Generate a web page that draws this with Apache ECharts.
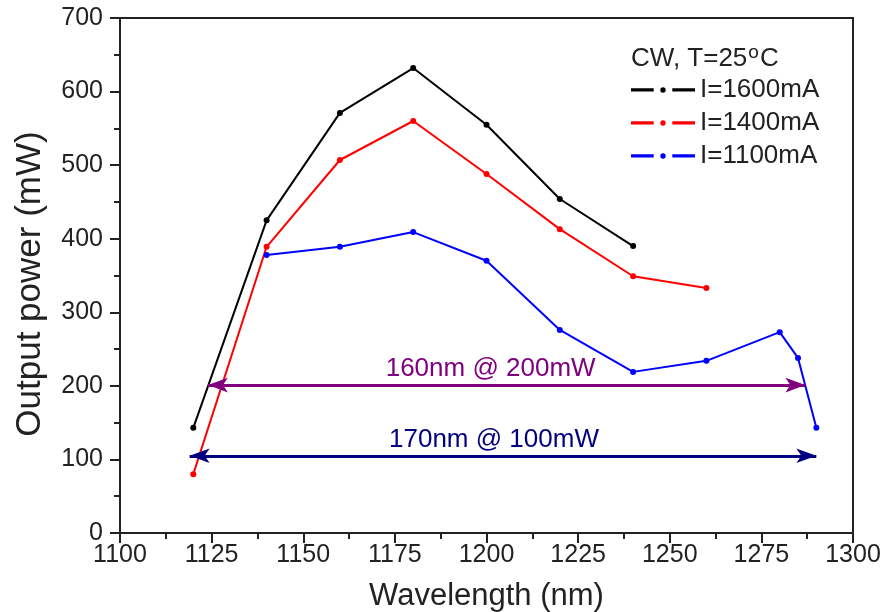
<!DOCTYPE html>
<html>
<head>
<meta charset="utf-8">
<script src="https://cdn.jsdelivr.net/npm/echarts@6/dist/echarts.min.js"></script>
<style>
  html, body { margin: 0; padding: 0; background: #fff; }
  #main { width: 888px; height: 612px; }
</style>
</head>
<body>
<div id="main"></div>
<script>
var wl1600 = [1120, 1140, 1160, 1180, 1200, 1220, 1240];
var p1600 = [143, 425, 571, 632, 555, 454, 390];
var wl1400 = [1120, 1140, 1160, 1180, 1200, 1220, 1240, 1260];
var p1400 = [80, 389, 507, 560, 488, 413, 349, 333];
var wl1100 = [1140, 1160, 1180, 1200, 1220, 1240, 1260, 1280, 1285, 1290];
var p1100 = [378, 389, 409, 370, 276, 219, 234, 273, 238, 143];
var seriesNames = ['I=1600mA', 'I=1400mA', 'I=1100mA'];
// arrows: [start wl, end wl, power, label]
var arrow200 = [1124, 1287, 201, '160nm @ 200mW'];
var arrow100 = [1119, 1290, 105, '170nm @ 100mW'];

var chartDom = document.getElementById('main');
var myChart = echarts.init(chartDom);
var font = 'Liberation Sans, Arial, sans-serif';

function pairs(xs, ys) {
    return xs.map(function (x, i) { return [x, ys[i]]; });
}

function arrowLine(a, color, shiftX) {
    return {
        silent: true,
        symbol: ['arrow', 'arrow'],
        symbolSize: [11, 20],
        lineStyle: { color: color, width: 3, type: 'solid' },
        label: {
            show: true,
            position: 'insideMiddleTop',
            distance: 3,
            offset: [shiftX, 0],
            formatter: a[3],
            color: color,
            fontSize: 26,
            fontFamily: font
        },
        data: [[{ coord: [a[0], a[2]] }, { coord: [a[1], a[2]] }]]
    };
}

var legendIcon = 'path://M0,5H22V8H0Z M40,5H62V8H40Z M31,4A2.6,2.6 0 1 1 31,9.2A2.6,2.6 0 1 1 31,4Z';

var option = {
    backgroundColor: '#fff',
    animation: false,
    title: {
        left: 626,
        top: 38,
        text: '{a|CW, T=25}{s|o}{a|C}',
        textStyle: {
            fontWeight: 'normal',
            rich: {
                a: { fontSize: 26, fontFamily: font, color: '#222' },
                s: { fontSize: 19, fontFamily: font, color: '#222', verticalAlign: 'top', padding: [0, 1, 12, 1] }
            }
        }
    },
    legend: {
        orient: 'vertical',
        left: 626,
        top: 72,
        itemGap: 7,
        itemWidth: 64,
        itemHeight: 6,
        icon: legendIcon,
        textStyle: { fontSize: 26, fontFamily: font, color: '#222', padding: [0, 0, 0, 0] },
        data: seriesNames
    },
    grid: {
        left: 120,
        right: 35,
        top: 18,
        bottom: 79,
        outerBoundsMode: 'none',
        show: true,
        borderColor: '#222',
        borderWidth: 2
    },
    xAxis: {
        type: 'value',
        min: 1100,
        max: 1300,
        interval: 25,
        name: 'Wavelength (nm)',
        nameLocation: 'middle',
        nameGap: 48,
        nameTextStyle: { fontSize: 31, fontFamily: font, color: '#222' },
        axisLine: { lineStyle: { color: '#222', width: 2 } },
        axisTick: { length: 10, lineStyle: { color: '#222', width: 2 } },
        minorTick: { show: true, splitNumber: 2, length: 6, lineStyle: { color: '#222', width: 2 } },
        splitLine: { show: false },
        axisLabel: { fontSize: 25, fontFamily: font, color: '#222', margin: 10, formatter: function (v) { return String(v); } }
    },
    yAxis: {
        type: 'value',
        min: 0,
        max: 700,
        interval: 100,
        name: 'Output power (mW)',
        nameLocation: 'middle',
        nameGap: 72,
        nameTextStyle: { fontSize: 35, fontFamily: font, color: '#222', padding: [0, 17, 0, 0] },
        axisLine: { show: true, lineStyle: { color: '#222', width: 2 } },
        axisTick: { show: true, length: 10, lineStyle: { color: '#222', width: 2 } },
        minorTick: { show: true, splitNumber: 2, length: 6, lineStyle: { color: '#222', width: 2 } },
        splitLine: { show: false },
        axisLabel: { fontSize: 25, fontFamily: font, color: '#222', margin: 17, formatter: function (v) { return String(v); } }
    },
    series: [
        {
            name: seriesNames[0],
            type: 'line',
            data: pairs(wl1600, p1600),
            color: '#000',
            symbol: 'circle',
            symbolSize: 6,
            lineStyle: { width: 2 },
            markLine: arrowLine(arrow200, '#800080', -16)
        },
        {
            name: seriesNames[1],
            type: 'line',
            data: pairs(wl1400, p1400),
            color: '#ff0000',
            symbol: 'circle',
            symbolSize: 6,
            lineStyle: { width: 2 },
            markLine: arrowLine(arrow100, '#000080', -9)
        },
        {
            name: seriesNames[2],
            type: 'line',
            data: pairs(wl1100, p1100),
            color: '#0000ff',
            symbol: 'circle',
            symbolSize: 6,
            lineStyle: { width: 2 }
        }
    ]
};

option && myChart.setOption(option);
</script>
</body>
</html>
